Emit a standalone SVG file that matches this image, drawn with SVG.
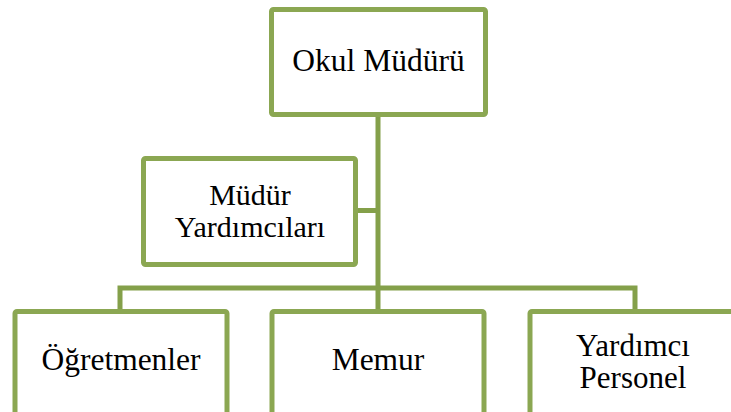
<svg xmlns="http://www.w3.org/2000/svg" width="731" height="412" viewBox="0 0 731 412">
<style>
.box{fill:#ffffff;stroke:#8ba752;stroke-width:5;}
.conn{fill:none;stroke:#84a04a;stroke-width:5;stroke-linecap:butt;stroke-linejoin:miter;}
text{font-family:"Liberation Serif","Times New Roman",serif;fill:#000000;text-anchor:middle;}
</style>
<rect width="731" height="412" fill="#ffffff"/>
<g id="connectors">
<path class="conn" d="M378,114 V311"/>
<path class="conn" d="M355,210.5 H378"/>
<path class="conn" d="M120,311 V288 H635 V311"/>
</g>
<g id="okul-muduru">
<rect class="box" x="271.5" y="9.5" width="214" height="105" rx="2"/>
<text x="378.5" y="71" font-size="31.5">Okul Müdürü</text>
</g>
<g id="mudur-yardimcilari">
<rect class="box" x="143.5" y="158.5" width="212" height="106" rx="2"/>
<text x="250" y="205" font-size="30">Müdür</text>
<text x="250" y="237" font-size="30">Yardımcıları</text>
</g>
<g id="ogretmenler">
<rect class="box" x="15" y="311.5" width="212" height="120" rx="2"/>
<text x="121" y="370" font-size="31.5">Öğretmenler</text>
</g>
<g id="memur">
<rect class="box" x="272" y="311.5" width="212" height="120" rx="2"/>
<text x="378" y="370" font-size="31.5">Memur</text>
</g>
<g id="yardimci-personel">
<rect class="box" x="530" y="311.5" width="212" height="120" rx="2"/>
<text x="633" y="356" font-size="31">Yardımcı</text>
<text x="633" y="388" font-size="31">Personel</text>
</g>
</svg>
